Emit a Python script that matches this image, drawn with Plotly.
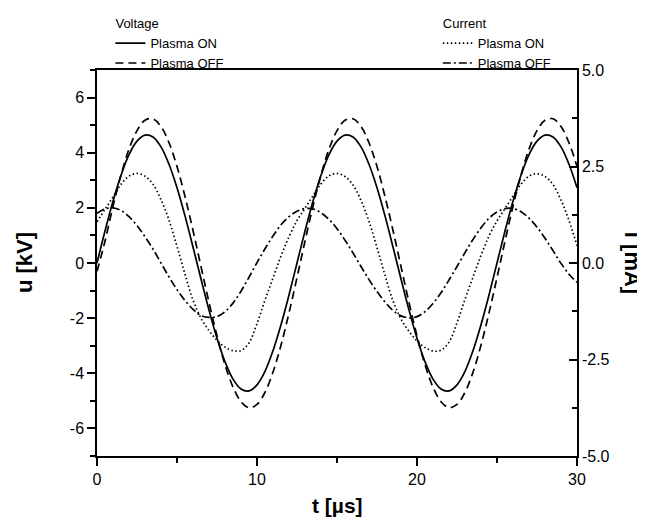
import plotly.graph_objects as go

# time axis (µs)
t_us = [0.0, 0.5, 1.0, 1.5, 2.0, 2.5, 3.0, 3.5, 4.0, 4.5, 5.0, 5.5, 6.0, 6.5, 7.0, 7.5,
        8.0, 8.5, 9.0, 9.5, 10.0, 10.5, 11.0, 11.5, 12.0, 12.5, 13.0, 13.5, 14.0, 14.5,
        15.0, 15.5, 16.0, 16.5, 17.0, 17.5, 18.0, 18.5, 19.0, 19.5, 20.0, 20.5, 21.0,
        21.5, 22.0, 22.5, 23.0, 23.5, 24.0, 24.5, 25.0, 25.5, 26.0, 26.5, 27.0, 27.5,
        28.0, 28.5, 29.0, 29.5, 30.0]

# Voltage, plasma ON (kV)
u_on = [0.00, 1.16, 2.24, 3.18, 3.93, 4.42, 4.64, 4.57, 4.21, 3.58, 2.73, 1.71, 0.58,
        -0.58, -1.71, -2.73, -3.58, -4.21, -4.57, -4.64, -4.42, -3.93, -3.18, -2.24, -1.16,
        0.00, 1.16, 2.24, 3.18, 3.93, 4.42, 4.64, 4.57, 4.21, 3.58, 2.73, 1.71, 0.58,
        -0.58, -1.71, -2.73, -3.58, -4.21, -4.57, -4.64, -4.42, -3.93, -3.18, -2.24, -1.16,
        0.00, 1.16, 2.24, 3.18, 3.93, 4.42, 4.64, 4.57, 4.21, 3.58, 2.73]

# Voltage, plasma OFF (kV)
u_off = [-0.30, 0.79, 2.06, 3.19, 4.13, 4.80, 5.18, 5.23, 4.95, 4.36, 3.50, 2.41, 1.18,
         -0.13, -1.43, -2.64, -3.69, -4.50, -5.03, -5.25, -5.13, -4.69, -3.96, -2.98, -1.81,
         -0.53, 0.79, 2.06, 3.19, 4.13, 4.80, 5.18, 5.23, 4.95, 4.36, 3.50, 2.41, 1.18,
         -0.13, -1.43, -2.64, -3.69, -4.50, -5.03, -5.25, -5.13, -4.69, -3.96, -2.98, -1.81,
         -0.53, 0.79, 2.06, 3.19, 4.13, 4.80, 5.18, 5.23, 4.95, 4.36, 3.50]

# Current, plasma ON (mA)
i_on = [1.07, 1.39, 1.71, 2.04, 2.25, 2.32, 2.25, 2.04, 1.64, 1.11, 0.43, -0.29, -0.96,
        -1.43, -1.75, -2.00, -2.18, -2.27, -2.27, -2.07, -1.57, -0.96, -0.39, 0.18, 0.68,
        1.10, 1.42, 1.74, 2.05, 2.26, 2.32, 2.24, 2.02, 1.62, 1.08, 0.40, -0.32, -0.98,
        -1.45, -1.77, -2.02, -2.19, -2.28, -2.26, -2.05, -1.55, -0.94, -0.37, 0.20, 0.70,
        1.09, 1.41, 1.73, 2.04, 2.25, 2.31, 2.24, 2.03, 1.63, 1.10, 0.45]

# Current, plasma OFF (mA)
i_off = [1.29, 1.40, 1.43, 1.36, 1.20, 0.97, 0.68, 0.36, 0.00, -0.36, -0.69, -0.97, -1.20,
         -1.36, -1.41, -1.39, -1.26, -1.04, -0.73, -0.37, 0.01, 0.37, 0.70, 0.99, 1.20,
         1.34, 1.41, 1.40, 1.30, 1.13, 0.89, 0.59, 0.26, -0.09, -0.43, -0.74, -1.01, -1.23,
         -1.37, -1.42, -1.39, -1.26, -1.05, -0.77, -0.44, -0.09, 0.27, 0.61, 0.91, 1.16,
         1.32, 1.41, 1.41, 1.33, 1.16, 0.93, 0.64, 0.32, -0.01, -0.29, -0.50]

u_tickvals = [-6, -4, -2, 0, 2, 4, 6]
u_ticktext = ["-6", "-4", "-2", "0", "2", "4", "6"]
i_tickvals = [-5.0, -2.5, 0.0, 2.5, 5.0]
i_ticktext = ["-5.0", "-2.5", "0.0", "2.5", "5.0"]
t_tickvals = [0, 10, 20, 30]
t_ticktext = ["0", "10", "20", "30"]

FONT = "Liberation Sans, Arial, Helvetica, sans-serif"
LW = 1.7

fig = go.Figure()
fig.add_trace(go.Scatter(x=t_us, y=u_on, mode="lines", name="Plasma ON",
                         line=dict(color="black", width=LW, shape="spline", smoothing=1.0),
                         legend="legend", legendgroup="v",
                         legendgrouptitle=dict(text="Voltage")))
fig.add_trace(go.Scatter(x=t_us, y=u_off, mode="lines", name="Plasma OFF",
                         line=dict(color="black", width=LW, dash="8px,5px", shape="spline", smoothing=1.0),
                         legend="legend", legendgroup="v"))
fig.add_trace(go.Scatter(x=t_us, y=i_on, mode="lines", name="Plasma ON", yaxis="y2",
                         line=dict(color="black", width=LW, dash="1.5px,2.5px", shape="spline", smoothing=1.0),
                         legend="legend2", legendgroup="c",
                         legendgrouptitle=dict(text="Current")))
fig.add_trace(go.Scatter(x=t_us, y=i_off, mode="lines", name="Plasma OFF", yaxis="y2",
                         line=dict(color="black", width=LW, dash="8px,3px,2px,3px", shape="spline", smoothing=1.0),
                         legend="legend2", legendgroup="c"))

axis_common = dict(showgrid=False, zeroline=False, showline=True, linecolor="black",
                   linewidth=1.5, tickcolor="black", tickwidth=1.5,
                   tickfont=dict(family=FONT, size=16, color="black"))

fig.update_layout(
    width=645, height=518,
    margin=dict(l=89, r=76, t=62, b=70, autoexpand=False),
    paper_bgcolor="white", plot_bgcolor="white",
    font=dict(family=FONT, color="black"),
    xaxis=dict(range=[0, 30], tickvals=t_tickvals, ticktext=t_ticktext, ticks="outside",
               ticklen=8, mirror=True,
               minor=dict(dtick=5, ticks="outside", ticklen=5, tickcolor="black", tickwidth=1.5),
               **axis_common),
    yaxis=dict(range=[-7, 7], tickvals=u_tickvals, ticktext=u_ticktext, ticks="outside",
               ticklen=8,
               minor=dict(dtick=1, ticks="outside", ticklen=5, tickcolor="black", tickwidth=1.5),
               **axis_common),
    yaxis2=dict(range=[-5, 5], tickvals=i_tickvals, ticktext=i_ticktext, ticks="inside",
                ticklen=8, overlaying="y", side="right",
                minor=dict(dtick=1.25, ticks="inside", ticklen=5, tickcolor="black", tickwidth=1.5),
                **axis_common),
    legend=dict(x=0.028, y=1.16, xanchor="left", yanchor="top", bgcolor="rgba(0,0,0,0)",
                font=dict(family=FONT, size=13, color="black"),
                grouptitlefont=dict(family=FONT, size=13, color="black"),
                itemwidth=30, tracegroupgap=0),
    legend2=dict(x=0.71, y=1.16, xanchor="left", yanchor="top", bgcolor="rgba(0,0,0,0)",
                 font=dict(family=FONT, size=13, color="black"),
                 grouptitlefont=dict(family=FONT, size=13, color="black"),
                 itemwidth=30, tracegroupgap=0),
    showlegend=True,
    annotations=[
        dict(text="<b>t [µs]</b>", xref="paper", yref="paper", x=0.5, y=-0.128,
             showarrow=False, font=dict(family=FONT, size=21, color="black"),
             xanchor="center", yanchor="middle"),
        dict(text="<b>u [kV]</b>", xref="paper", yref="paper", x=-0.152, y=0.5,
             showarrow=False, textangle=-90, font=dict(family=FONT, size=22, color="black"),
             xanchor="center", yanchor="middle"),
        dict(text="<b>i [mA]</b>", xref="paper", yref="paper", x=1.117, y=0.5,
             showarrow=False, textangle=90, font=dict(family=FONT, size=22, color="black"),
             xanchor="center", yanchor="middle"),
    ],
)

fig.write_html("out.html")
